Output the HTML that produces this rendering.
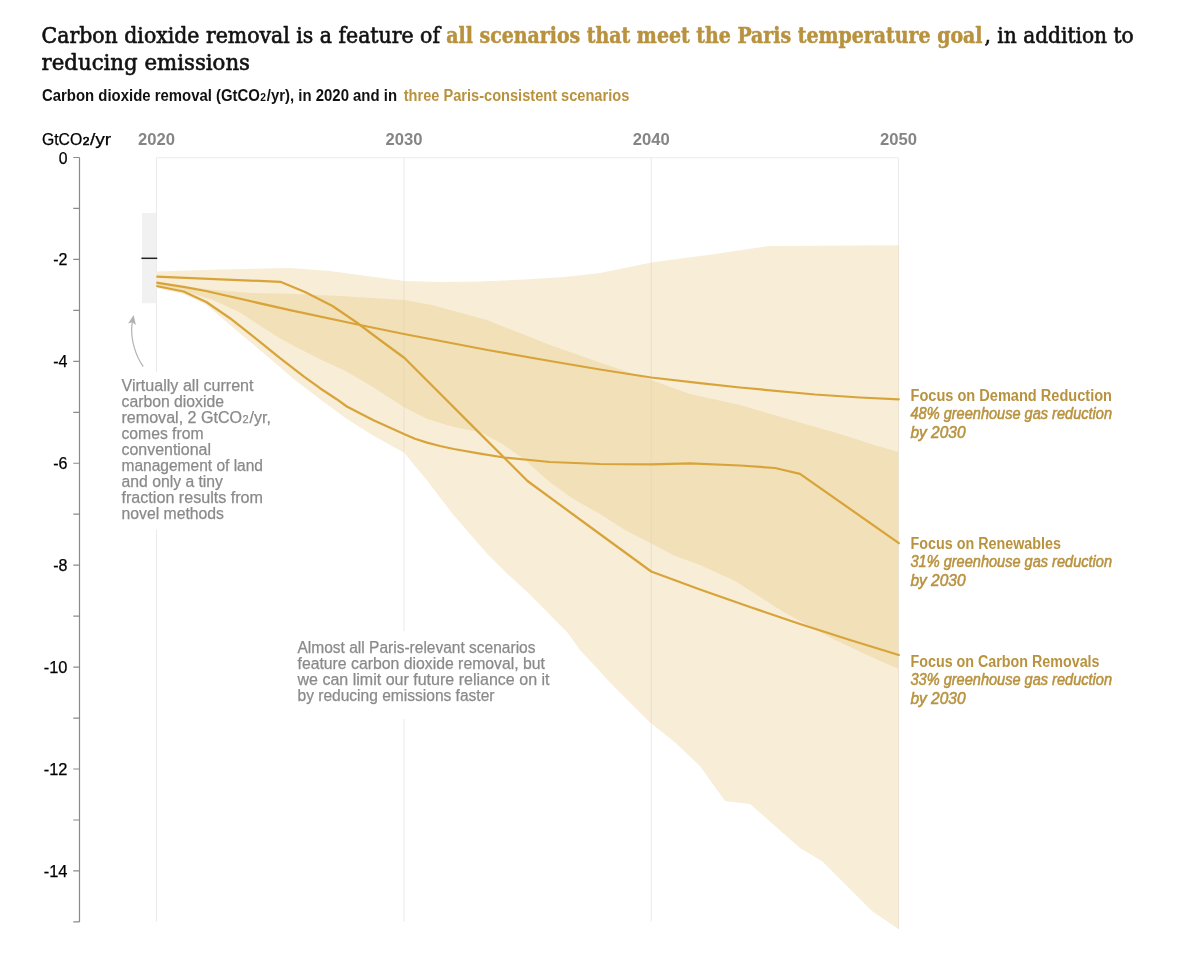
<!DOCTYPE html>
<html lang="en">
<head>
<meta charset="utf-8">
<title>Carbon dioxide removal in Paris-consistent scenarios</title>
<style>html,body{margin:0;padding:0;background:#fff}body{width:1200px;height:972px;overflow:hidden}svg{display:block}</style>
</head>
<body>
<svg width="1200" height="972" viewBox="0 0 1200 972">
<rect width="1200" height="972" fill="#fff"/>
<g stroke="#eaeaea" stroke-width="1" fill="none">
<path d="M156.50 921.5V157.75H898.50V929"/>
<path d="M404.00 157.75V921.5M651.25 157.75V921.5"/>
</g>
<polygon points="156.3,271.4 220.0,269.5 290.0,268.0 330.0,271.0 370.0,276.5 405.0,281.0 440.0,282.0 480.0,281.5 525.0,279.5 565.0,277.0 600.0,273.0 625.0,268.0 651.2,262.5 700.0,256.0 715.0,254.0 745.0,249.5 770.0,246.0 820.0,245.8 898.5,245.3 898.5,929.0 872.5,911.5 822.5,861.5 800.0,848.0 775.0,826.0 750.0,804.0 725.0,801.0 700.0,766.0 675.0,742.5 650.0,722.5 612.5,685.0 580.0,650.0 567.5,632.5 550.0,615.0 528.4,593.0 508.0,574.5 488.3,555.0 470.0,534.0 453.5,515.0 440.0,497.5 426.8,480.0 415.0,466.0 404.5,453.0 373.5,435.7 346.8,419.0 320.4,399.5 293.6,379.0 267.0,356.0 240.0,333.5 206.0,304.5 183.5,294.0 156.3,288.0" fill="#f8edd7"/>
<polygon points="156.3,283.0 175.0,285.0 210.0,289.5 250.0,293.0 290.0,293.7 340.0,296.0 405.0,300.0 432.0,305.0 487.0,320.0 550.0,345.0 600.0,362.5 651.2,380.0 690.0,394.0 740.0,405.0 777.5,416.0 840.0,434.0 877.5,446.0 898.5,452.0 898.5,669.0 872.5,657.5 835.0,640.0 785.0,613.0 735.0,581.0 700.0,565.0 675.0,556.0 651.2,543.5 625.0,530.0 600.0,514.0 575.0,500.0 550.0,482.5 525.0,460.0 500.0,442.5 480.0,432.3 453.8,427.0 427.0,419.0 404.5,407.5 372.0,386.5 345.0,370.8 320.0,359.2 295.0,346.5 279.4,338.0 254.7,322.3 240.0,312.5 213.0,300.0 183.5,291.0 156.3,286.0" fill="#f2e1b8"/>
<g stroke="#d9cdb6" stroke-opacity="0.4" stroke-width="1"><path d="M404.00 281V452M651.25 262.5V723"/></g>
<path d="M898.50 245.3V929" stroke="#ebe2d2" stroke-width="1"/>
<polyline points="156.3,282.6 183.5,286.8 206.0,291.0 290.0,310.2 357.5,324.5 404.0,334.0 487.5,350.0 550.0,361.0 600.0,369.5 651.2,377.5 700.0,383.2 740.0,387.5 815.0,394.5 860.0,397.5 898.8,399.3" fill="none" stroke="#d8a43a" stroke-width="2.25" stroke-linejoin="round" stroke-linecap="round"/>
<polyline points="156.3,286.0 183.5,291.5 206.3,302.0 230.0,318.2 254.7,337.6 279.4,357.7 304.0,376.7 320.0,388.2 336.7,399.2 346.8,406.5 373.5,420.3 404.5,434.2 415.0,438.8 427.0,442.6 440.0,446.0 453.8,449.0 480.0,453.7 504.0,457.5 550.0,462.0 600.0,464.0 651.2,464.3 690.0,463.3 740.0,465.5 775.0,468.0 800.0,473.8 898.8,543.2" fill="none" stroke="#d8a43a" stroke-width="2.25" stroke-linejoin="round" stroke-linecap="round"/>
<polyline points="156.3,276.6 280.3,281.8 305.0,292.0 332.5,306.0 356.0,322.0 380.0,340.0 404.5,358.0 440.0,393.5 480.0,433.6 504.0,457.5 527.5,481.0 587.5,525.0 651.2,571.5 700.0,589.5 750.0,607.0 800.0,624.0 850.0,640.0 898.8,655.0" fill="none" stroke="#d8a43a" stroke-width="2.25" stroke-linejoin="round" stroke-linecap="round"/>
<rect x="142" y="213" width="14.3" height="90.2" fill="#f1f1f1"/>
<path d="M141.4 258.3H157.2" stroke="#222" stroke-width="1.5"/>
<g stroke="#8a8a8a" stroke-width="1.2" fill="none">
<path d="M79.5 157.5V922"/>
<path d="M73.3 157.50H79.5M73.3 208.46H79.5M73.3 259.42H79.5M73.3 310.38H79.5M73.3 361.34H79.5M73.3 412.30H79.5M73.3 463.26H79.5M73.3 514.22H79.5M73.3 565.18H79.5M73.3 616.14H79.5M73.3 667.10H79.5M73.3 718.06H79.5M73.3 769.02H79.5M73.3 819.98H79.5M73.3 870.94H79.5M73.3 921.90H79.5"/>
</g>
<path d="M143 366.1C137.5 358.5 129.5 341 132.2 322.3" fill="none" stroke="#b2b2b2" stroke-width="1.2" stroke-linecap="round"/>
<path d="M133.6 315.1L135.9 325L132.2 322.3L128.1 323.6Z" fill="#b2b2b2"/>
<rect x="118" y="372" width="160" height="157.5" fill="#fff"/>
<rect x="294" y="631" width="262" height="88" fill="#fff"/>
<text x="58.75" y="163.5" font-family='"Liberation Sans", Arial, sans-serif' font-size="16" fill="#000" font-weight="400" font-style="normal" text-anchor="start" textLength="8.75" lengthAdjust="spacingAndGlyphs" stroke="#000" stroke-width="0.25" stroke-linejoin="round">0</text>
<text x="53.25" y="265.4" font-family='"Liberation Sans", Arial, sans-serif' font-size="16" fill="#000" font-weight="400" font-style="normal" text-anchor="start" textLength="14.25" lengthAdjust="spacingAndGlyphs" stroke="#000" stroke-width="0.25" stroke-linejoin="round">-2</text>
<text x="53.25" y="367.3" font-family='"Liberation Sans", Arial, sans-serif' font-size="16" fill="#000" font-weight="400" font-style="normal" text-anchor="start" textLength="14.25" lengthAdjust="spacingAndGlyphs" stroke="#000" stroke-width="0.25" stroke-linejoin="round">-4</text>
<text x="53.25" y="469.3" font-family='"Liberation Sans", Arial, sans-serif' font-size="16" fill="#000" font-weight="400" font-style="normal" text-anchor="start" textLength="14.25" lengthAdjust="spacingAndGlyphs" stroke="#000" stroke-width="0.25" stroke-linejoin="round">-6</text>
<text x="53.25" y="571.2" font-family='"Liberation Sans", Arial, sans-serif' font-size="16" fill="#000" font-weight="400" font-style="normal" text-anchor="start" textLength="14.25" lengthAdjust="spacingAndGlyphs" stroke="#000" stroke-width="0.25" stroke-linejoin="round">-8</text>
<text x="43.75" y="673.1" font-family='"Liberation Sans", Arial, sans-serif' font-size="16" fill="#000" font-weight="400" font-style="normal" text-anchor="start" textLength="23.75" lengthAdjust="spacingAndGlyphs" stroke="#000" stroke-width="0.25" stroke-linejoin="round">-10</text>
<text x="43.75" y="775.0" font-family='"Liberation Sans", Arial, sans-serif' font-size="16" fill="#000" font-weight="400" font-style="normal" text-anchor="start" textLength="23.75" lengthAdjust="spacingAndGlyphs" stroke="#000" stroke-width="0.25" stroke-linejoin="round">-12</text>
<text x="43.75" y="876.9" font-family='"Liberation Sans", Arial, sans-serif' font-size="16" fill="#000" font-weight="400" font-style="normal" text-anchor="start" textLength="23.75" lengthAdjust="spacingAndGlyphs" stroke="#000" stroke-width="0.25" stroke-linejoin="round">-14</text>
<text x="41.9" y="144.8" font-family='"Liberation Sans", Arial, sans-serif' font-size="16" fill="#000" font-weight="400" font-style="normal" text-anchor="start" textLength="40.3" lengthAdjust="spacingAndGlyphs" stroke="#000" stroke-width="0.25" stroke-linejoin="round">GtCO</text>
<text x="0" y="0" font-family='"Liberation Sans", Arial, sans-serif' font-size="10" fill="#000" font-weight="400" font-style="normal" text-anchor="start" transform="translate(82.7,144.8) scale(1.2,1)" stroke="#000" stroke-width="0.6" stroke-linejoin="round">2</text>
<text x="89.9" y="144.8" font-family='"Liberation Sans", Arial, sans-serif' font-size="16" fill="#000" font-weight="400" font-style="normal" text-anchor="start" textLength="21.4" lengthAdjust="spacingAndGlyphs" stroke="#000" stroke-width="0.25" stroke-linejoin="round">/yr</text>
<text x="138.0" y="144.8" font-family='"Liberation Sans", Arial, sans-serif' font-size="16" fill="#858585" font-weight="700" font-style="normal" text-anchor="start" textLength="37" lengthAdjust="spacingAndGlyphs">2020</text>
<text x="385.5" y="144.8" font-family='"Liberation Sans", Arial, sans-serif' font-size="16" fill="#858585" font-weight="700" font-style="normal" text-anchor="start" textLength="37" lengthAdjust="spacingAndGlyphs">2030</text>
<text x="632.8" y="144.8" font-family='"Liberation Sans", Arial, sans-serif' font-size="16" fill="#858585" font-weight="700" font-style="normal" text-anchor="start" textLength="37" lengthAdjust="spacingAndGlyphs">2040</text>
<text x="880.0" y="144.8" font-family='"Liberation Sans", Arial, sans-serif' font-size="16" fill="#858585" font-weight="700" font-style="normal" text-anchor="start" textLength="37" lengthAdjust="spacingAndGlyphs">2050</text>
<text x="910.5" y="400.7" font-family='"Liberation Sans", Arial, sans-serif' font-size="16" fill="#b8923e" font-weight="700" font-style="normal" text-anchor="start" textLength="201.5" lengthAdjust="spacingAndGlyphs">Focus on Demand Reduction</text>
<text x="910.5" y="419.09999999999997" font-family='"Liberation Sans", Arial, sans-serif' font-size="16" fill="#b8923e" font-weight="400" font-style="italic" text-anchor="start" textLength="201.5" lengthAdjust="spacingAndGlyphs" stroke="#b8923e" stroke-width="0.55" stroke-linejoin="round">48% greenhouse gas reduction</text>
<text x="910.5" y="437.5" font-family='"Liberation Sans", Arial, sans-serif' font-size="16" fill="#b8923e" font-weight="400" font-style="italic" text-anchor="start" textLength="55" lengthAdjust="spacingAndGlyphs" stroke="#b8923e" stroke-width="0.55" stroke-linejoin="round">by 2030</text>
<text x="910.5" y="548.7" font-family='"Liberation Sans", Arial, sans-serif' font-size="16" fill="#b8923e" font-weight="700" font-style="normal" text-anchor="start" textLength="150.5" lengthAdjust="spacingAndGlyphs">Focus on Renewables</text>
<text x="910.5" y="567.1" font-family='"Liberation Sans", Arial, sans-serif' font-size="16" fill="#b8923e" font-weight="400" font-style="italic" text-anchor="start" textLength="201.5" lengthAdjust="spacingAndGlyphs" stroke="#b8923e" stroke-width="0.55" stroke-linejoin="round">31% greenhouse gas reduction</text>
<text x="910.5" y="585.5" font-family='"Liberation Sans", Arial, sans-serif' font-size="16" fill="#b8923e" font-weight="400" font-style="italic" text-anchor="start" textLength="55" lengthAdjust="spacingAndGlyphs" stroke="#b8923e" stroke-width="0.55" stroke-linejoin="round">by 2030</text>
<text x="910.5" y="667" font-family='"Liberation Sans", Arial, sans-serif' font-size="16" fill="#b8923e" font-weight="700" font-style="normal" text-anchor="start" textLength="189" lengthAdjust="spacingAndGlyphs">Focus on Carbon Removals</text>
<text x="910.5" y="685.4" font-family='"Liberation Sans", Arial, sans-serif' font-size="16" fill="#b8923e" font-weight="400" font-style="italic" text-anchor="start" textLength="201.5" lengthAdjust="spacingAndGlyphs" stroke="#b8923e" stroke-width="0.55" stroke-linejoin="round">33% greenhouse gas reduction</text>
<text x="910.5" y="703.8" font-family='"Liberation Sans", Arial, sans-serif' font-size="16" fill="#b8923e" font-weight="400" font-style="italic" text-anchor="start" textLength="55" lengthAdjust="spacingAndGlyphs" stroke="#b8923e" stroke-width="0.55" stroke-linejoin="round">by 2030</text>
<text x="121.5" y="390.9" font-family='"Liberation Sans", Arial, sans-serif' font-size="16" fill="#8a8a8a" font-weight="400" font-style="normal" text-anchor="start" textLength="132" lengthAdjust="spacingAndGlyphs" stroke="#8a8a8a" stroke-width="0.25" stroke-linejoin="round">Virtually all current</text>
<text x="121.5" y="406.8" font-family='"Liberation Sans", Arial, sans-serif' font-size="16" fill="#8a8a8a" font-weight="400" font-style="normal" text-anchor="start" textLength="102.5" lengthAdjust="spacingAndGlyphs" stroke="#8a8a8a" stroke-width="0.25" stroke-linejoin="round">carbon dioxide</text>
<text x="121.5" y="422.8" font-family='"Liberation Sans", Arial, sans-serif' font-size="16" fill="#8a8a8a" font-weight="400" font-style="normal" text-anchor="start" textLength="149.5" lengthAdjust="spacingAndGlyphs" stroke="#8a8a8a" stroke-width="0.25" stroke-linejoin="round">removal, 2 GtCO<tspan font-size="11" dx="0.4" letter-spacing="0.9">2</tspan>/yr,</text>
<text x="121.5" y="438.8" font-family='"Liberation Sans", Arial, sans-serif' font-size="16" fill="#8a8a8a" font-weight="400" font-style="normal" text-anchor="start" textLength="82" lengthAdjust="spacingAndGlyphs" stroke="#8a8a8a" stroke-width="0.25" stroke-linejoin="round">comes from</text>
<text x="121.5" y="454.7" font-family='"Liberation Sans", Arial, sans-serif' font-size="16" fill="#8a8a8a" font-weight="400" font-style="normal" text-anchor="start" textLength="89.5" lengthAdjust="spacingAndGlyphs" stroke="#8a8a8a" stroke-width="0.25" stroke-linejoin="round">conventional</text>
<text x="121.5" y="470.6" font-family='"Liberation Sans", Arial, sans-serif' font-size="16" fill="#8a8a8a" font-weight="400" font-style="normal" text-anchor="start" textLength="141.5" lengthAdjust="spacingAndGlyphs" stroke="#8a8a8a" stroke-width="0.25" stroke-linejoin="round">management of land</text>
<text x="121.5" y="486.6" font-family='"Liberation Sans", Arial, sans-serif' font-size="16" fill="#8a8a8a" font-weight="400" font-style="normal" text-anchor="start" textLength="101.5" lengthAdjust="spacingAndGlyphs" stroke="#8a8a8a" stroke-width="0.25" stroke-linejoin="round">and only a tiny</text>
<text x="121.5" y="502.5" font-family='"Liberation Sans", Arial, sans-serif' font-size="16" fill="#8a8a8a" font-weight="400" font-style="normal" text-anchor="start" textLength="141.5" lengthAdjust="spacingAndGlyphs" stroke="#8a8a8a" stroke-width="0.25" stroke-linejoin="round">fraction results from</text>
<text x="121.5" y="518.5" font-family='"Liberation Sans", Arial, sans-serif' font-size="16" fill="#8a8a8a" font-weight="400" font-style="normal" text-anchor="start" textLength="102.5" lengthAdjust="spacingAndGlyphs" stroke="#8a8a8a" stroke-width="0.25" stroke-linejoin="round">novel methods</text>
<text x="297.5" y="653.2" font-family='"Liberation Sans", Arial, sans-serif' font-size="16" fill="#8a8a8a" font-weight="400" font-style="normal" text-anchor="start" textLength="238" lengthAdjust="spacingAndGlyphs" stroke="#8a8a8a" stroke-width="0.25" stroke-linejoin="round">Almost all Paris-relevant scenarios</text>
<text x="297.5" y="669.2" font-family='"Liberation Sans", Arial, sans-serif' font-size="16" fill="#8a8a8a" font-weight="400" font-style="normal" text-anchor="start" textLength="247.5" lengthAdjust="spacingAndGlyphs" stroke="#8a8a8a" stroke-width="0.25" stroke-linejoin="round">feature carbon dioxide removal, but</text>
<text x="297.5" y="685.2" font-family='"Liberation Sans", Arial, sans-serif' font-size="16" fill="#8a8a8a" font-weight="400" font-style="normal" text-anchor="start" textLength="252" lengthAdjust="spacingAndGlyphs" stroke="#8a8a8a" stroke-width="0.25" stroke-linejoin="round">we can limit our future reliance on it</text>
<text x="297.5" y="701.2" font-family='"Liberation Sans", Arial, sans-serif' font-size="16" fill="#8a8a8a" font-weight="400" font-style="normal" text-anchor="start" textLength="197" lengthAdjust="spacingAndGlyphs" stroke="#8a8a8a" stroke-width="0.25" stroke-linejoin="round">by reducing emissions faster</text>
<text x="42" y="100.5" font-family='"Liberation Sans", Arial, sans-serif' font-size="16" fill="#111" font-weight="700" font-style="normal" text-anchor="start" textLength="355" lengthAdjust="spacingAndGlyphs">Carbon dioxide removal (GtCO<tspan font-size="11" dx="0.4" letter-spacing="0.9">2</tspan>/yr), in 2020 and in</text>
<text x="403.75" y="100.5" font-family='"Liberation Sans", Arial, sans-serif' font-size="16" fill="#b8923e" font-weight="700" font-style="normal" text-anchor="start" textLength="225.5" lengthAdjust="spacingAndGlyphs">three Paris-consistent scenarios</text>
<text x="41.6" y="42.8" font-family='"DejaVu Serif Condensed", "DejaVu Serif", "Liberation Serif", serif' font-size="22.5" fill="#111" font-weight="400" font-style="normal" text-anchor="start" textLength="398.4" lengthAdjust="spacingAndGlyphs" stroke="#111" stroke-width="0.6" stroke-linejoin="round">Carbon dioxide removal is a feature of</text>
<text x="446.25" y="42.8" font-family='"DejaVu Serif Condensed", "DejaVu Serif", "Liberation Serif", serif' font-size="22.5" fill="#b8923e" font-weight="700" font-style="normal" text-anchor="start" textLength="536.25" lengthAdjust="spacingAndGlyphs" stroke="#b8923e" stroke-width="0.5" stroke-linejoin="round">all scenarios that meet the Paris temperature goal</text>
<text x="984.5" y="42.8" font-family='"DejaVu Serif Condensed", "DejaVu Serif", "Liberation Serif", serif' font-size="22.5" fill="#111" font-weight="400" font-style="normal" text-anchor="start" textLength="149.25" lengthAdjust="spacingAndGlyphs" stroke="#111" stroke-width="0.6" stroke-linejoin="round">, in addition to</text>
<text x="41.6" y="69.8" font-family='"DejaVu Serif Condensed", "DejaVu Serif", "Liberation Serif", serif' font-size="22.5" fill="#111" font-weight="400" font-style="normal" text-anchor="start" textLength="208.4" lengthAdjust="spacingAndGlyphs" stroke="#111" stroke-width="0.6" stroke-linejoin="round">reducing emissions</text>
</svg>
</body>
</html>
